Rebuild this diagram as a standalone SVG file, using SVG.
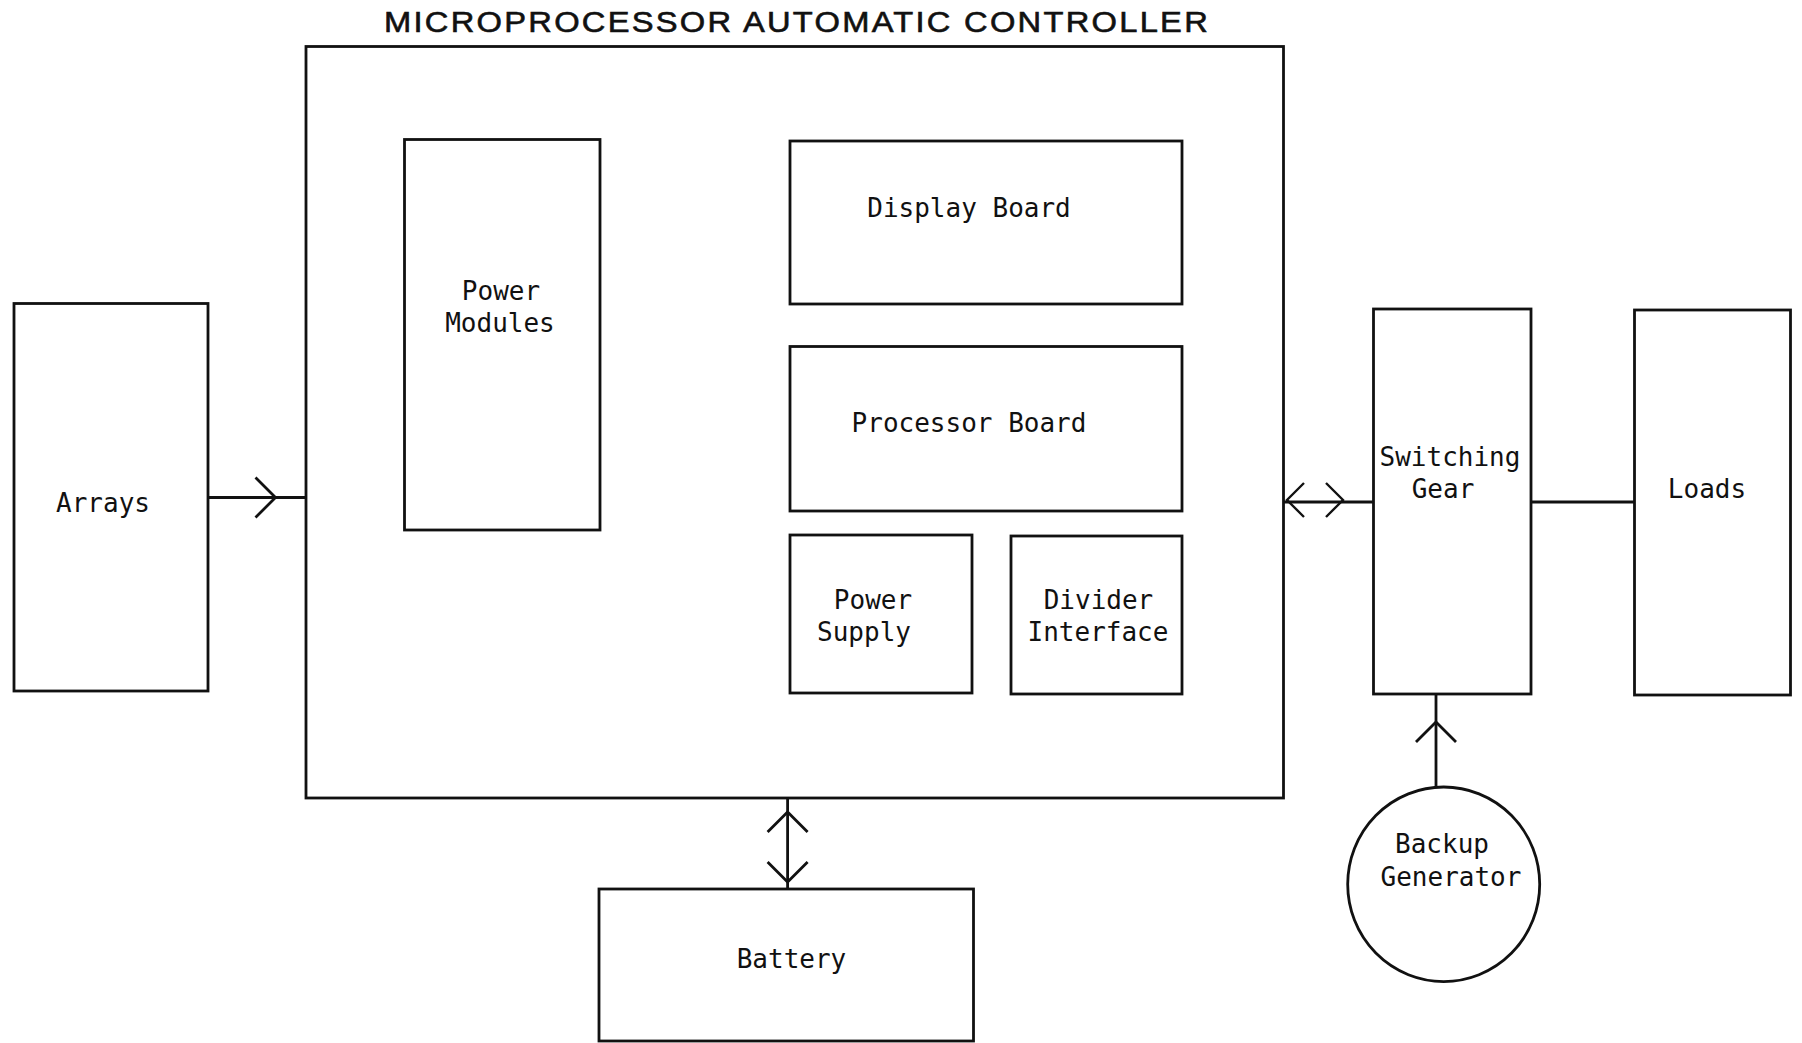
<svg xmlns="http://www.w3.org/2000/svg" xmlns:xlink="http://www.w3.org/1999/xlink" width="1802" height="1043" viewBox="0 0 1802 1043">
<style>
.box{fill:none;stroke:#111;stroke-width:2.8}
.ln{fill:none;stroke:#111;stroke-width:2.8}
.chev{fill:none;stroke:#111;stroke-width:2.8;stroke-linejoin:miter}
.lbl{font-family:"DejaVu Sans Mono","Liberation Mono",monospace;font-size:26px;fill:#111;text-anchor:middle}
.title{font-family:"Liberation Sans",Arial,sans-serif;font-size:29px;letter-spacing:2px;fill:#111;stroke:#111;stroke-width:0.6}
</style>
<defs>
<path id="chev" class="chev" d="M-20,-20 L0,0 L-20,20"/>
</defs>
<rect width="1802" height="1043" fill="#fff"/>
<text class="title" x="384" y="32" textLength="826" lengthAdjust="spacingAndGlyphs">MICROPROCESSOR AUTOMATIC CONTROLLER</text>
<g id="controller">
<rect class="box" x="306" y="46.5" width="977.5" height="751.5"/>
</g>
<g id="power-modules">
<rect class="box" x="404.5" y="139.5" width="195.5" height="390.5"/>
<text class="lbl" x="501" y="300">Power</text>
<text class="lbl" x="500" y="332">Modules</text>
</g>
<g id="display-board">
<rect class="box" x="790" y="141" width="392" height="163"/>
<text class="lbl" x="969" y="217">Display Board</text>
</g>
<g id="processor-board">
<rect class="box" x="790" y="346.5" width="392" height="164.5"/>
<text class="lbl" x="969" y="432">Processor Board</text>
</g>
<g id="power-supply">
<rect class="box" x="790" y="535" width="182" height="158"/>
<text class="lbl" x="873" y="609">Power</text>
<text class="lbl" x="864" y="641">Supply</text>
</g>
<g id="divider-interface">
<rect class="box" x="1011" y="536" width="171" height="158"/>
<text class="lbl" x="1098.5" y="609">Divider</text>
<text class="lbl" x="1098" y="641">Interface</text>
</g>
<g id="arrays">
<rect class="box" x="14" y="303.5" width="194" height="387.5"/>
<text class="lbl" x="103" y="512">Arrays</text>
</g>
<g id="switching-gear">
<rect class="box" x="1373.5" y="309" width="157.5" height="385"/>
<text class="lbl" x="1450" y="466">Switching</text>
<text class="lbl" x="1443" y="497.5">Gear</text>
</g>
<g id="loads">
<rect class="box" x="1634.5" y="310" width="156" height="385"/>
<text class="lbl" x="1707" y="497.5">Loads</text>
</g>
<g id="battery">
<rect class="box" x="599" y="889" width="374.5" height="152"/>
<text class="lbl" x="791.5" y="968">Battery</text>
</g>
<g id="backup-generator">
<ellipse class="box" cx="1443.7" cy="884.3" rx="96" ry="97.3"/>
<text class="lbl" x="1442" y="853">Backup</text>
<text class="lbl" x="1451" y="886">Generator</text>
</g>
<g id="connectors">
<line class="ln" x1="208" y1="497.5" x2="306" y2="497.5"/>
<use xlink:href="#chev" transform="translate(275.5,497.5)"/>
<line class="ln" x1="1283.5" y1="502" x2="1373.5" y2="502"/>
<use xlink:href="#chev" transform="translate(1287,500) rotate(180) scale(0.85)"/>
<use xlink:href="#chev" transform="translate(1343,500) scale(0.85)"/>
<line class="ln" x1="1531" y1="502" x2="1634.5" y2="502"/>
<line class="ln" x1="787.6" y1="798" x2="787.6" y2="889"/>
<use xlink:href="#chev" transform="translate(787.6,812) rotate(-90)"/>
<use xlink:href="#chev" transform="translate(787.6,882) rotate(90)"/>
<line class="ln" x1="1436" y1="694" x2="1436" y2="787"/>
<use xlink:href="#chev" transform="translate(1436,722) rotate(-90)"/>
</g>
</svg>
